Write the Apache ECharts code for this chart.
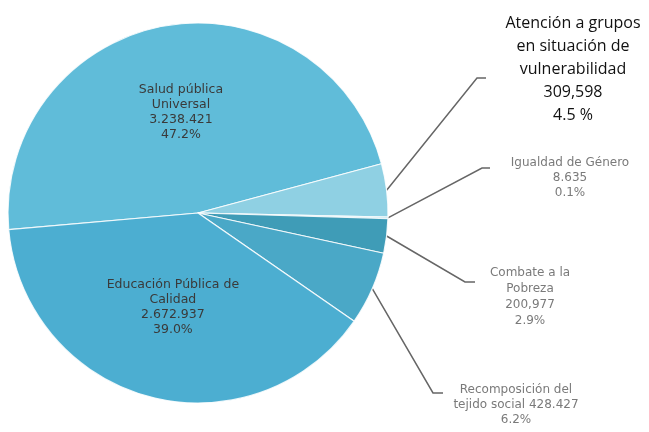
<!DOCTYPE html>
<html>
<head>
<meta charset="utf-8">
<script src="https://cdn.jsdelivr.net/npm/echarts@6/dist/echarts.min.js"></script>
<style>html,body{margin:0;padding:0;background:#fff;}#c{width:649px;height:432px;}</style>
</head>
<body>
<div id="c"></div>
<script>
var categories = ['Salud pública Universal', 'Atención a grupos en situación de vulnerabilidad', 'Igualdad de Género', 'Combate a la Pobreza', 'Recomposición del tejido social', 'Educación Pública de Calidad'];
var nameLines = [['Salud pública', 'Universal'], ['Atención a grupos', 'en situación de', 'vulnerabilidad'], ['Igualdad de Género'], ['Combate a la', 'Pobreza'], ['Recomposición del', 'tejido social'], ['Educación Pública de', 'Calidad']];
var values = [3238421, 309598, 8635, 200977, 428427, 2672937];
var valueLabels = ['3.238.421', '309,598', '8.635', '200,977', '428.427', '2.672.937'];
var percentLabels = ['47.2%', '4.5 %', '0.1%', '2.9%', '6.2%', '39.0%'];

var colors = ['#60bcd9', '#8fd0e3', '#7cc6dc', '#3f9cb7', '#4aa8c7', '#4caed1'];
// outer label layout: [centerX, topY, elbowX, elbowY, endX]
var outerLayout = {
  1: [573, 12, 477, 78, 486],
  2: [570, 155, 482, 168, 490],
  3: [530, 265, 465, 282, 475],
  4: [516, 382, 433, 393, 443]
};

function labelText(i) {
  var lines = nameLines[i].slice();
  if (i === 4) {
    lines[lines.length - 1] += ' ' + valueLabels[i];
  } else {
    lines.push(valueLabels[i]);
  }
  lines.push(percentLabels[i]);
  return lines.join('\n');
}

var data = categories.map(function (c, i) {
  var inside = (i === 0 || i === 5);
  var big = (i === 1);
  return {
    name: c,
    value: values[i],
    itemStyle: { color: colors[i] },
    label: {
      show: true,
      position: inside ? 'inside' : 'outside',
      formatter: labelText(i),
      color: inside ? '#3a3a3a' : (big ? '#111' : '#7a7a7a'),
      fontFamily: big ? 'Open Sans' : 'DejaVu Sans',
      fontSize: big ? 16 : (inside ? 12.5 : 12),
      lineHeight: big ? 23 : (inside ? 15 : (i === 3 ? 16 : 15)),
      offset: i === 0 ? [0, -4] : [0, 0],
      align: 'center'
    },
    labelLine: { show: !inside }
  };
});

var chart = echarts.init(document.getElementById('c'), null, { renderer: 'canvas' });
chart.setOption({
  animation: false,
  series: [{
    type: 'pie',
    center: [198, 213],
    radius: [0, 190],
    startAngle: 185,
    clockwise: true,
    avoidLabelOverlap: false,
    itemStyle: { borderColor: 'rgba(255,255,255,0.85)', borderWidth: 1.2 },
    labelLine: { lineStyle: { color: '#666', width: 1.5 }, smooth: false },
    labelLayout: function (p) {
      var L = outerLayout[p.dataIndex];
      if (!L) return {};
      var start = p.labelLinePoints ? p.labelLinePoints[0] : [L[2], L[3]];
      return {
        x: L[0], y: L[1], align: 'center', verticalAlign: 'top',
        labelLinePoints: [start, [L[2], L[3]], [L[4], L[3]]]
      };
    },
    emphasis: { disabled: true },
    data: data
  }]
});
</script>
</body>
</html>
